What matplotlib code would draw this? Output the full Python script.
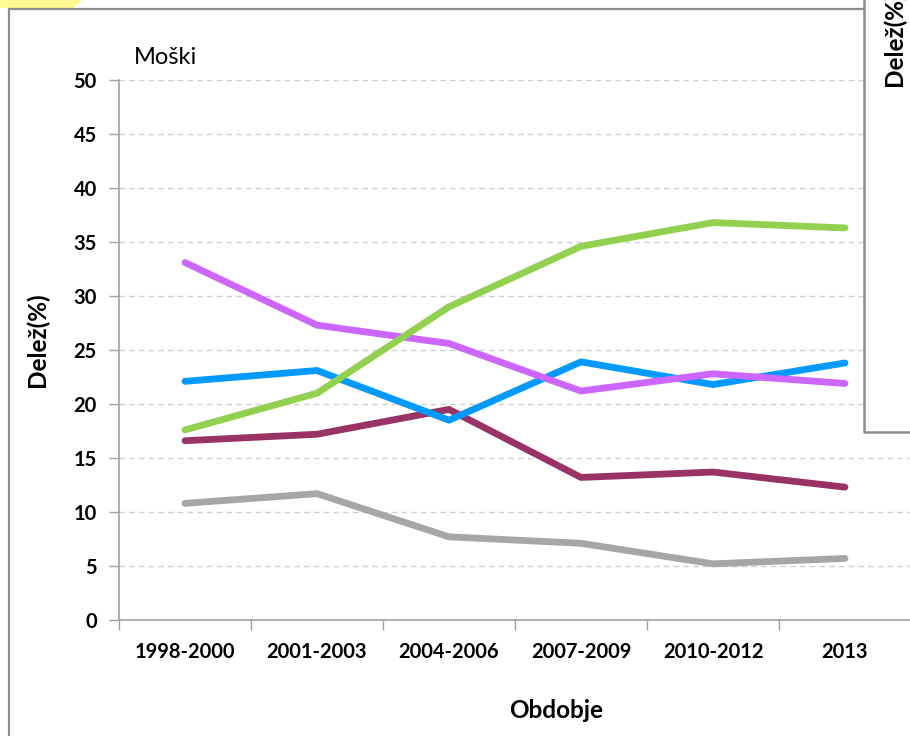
import numpy as np
import matplotlib.pyplot as plt
from matplotlib.patches import Polygon
from matplotlib.lines import Line2D

plt.rcParams['font.family'] = ['Lato', 'DejaVu Sans']

# ---------------------------------------------------------------------------
# data
# ---------------------------------------------------------------------------
periods = ['1998-2000', '2001-2003', '2004-2006', '2007-2009', '2010-2012', '2013']
green = [17.6, 21.0, 29.0, 34.6, 36.8, 36.3]
blue = [22.1, 23.1, 18.5, 23.9, 21.8, 23.8]
violet = [33.1, 27.3, 25.6, 21.2, 22.8, 21.9]
maroon = [16.6, 17.2, 19.5, 13.2, 13.7, 12.3]
grey = [10.8, 11.7, 7.7, 7.1, 5.2, 5.7]

series = [
    (grey, '#A6A6A6'),
    (maroon, '#993366'),
    (blue, '#0099FF'),
    (violet, '#CC66FF'),
    (green, '#92D050'),
]

W, H = 910, 736
fig = plt.figure(figsize=(W / 100, H / 100), dpi=100)

def fx(px):
    return px / W

def fy(py):
    return 1 - py / H

# axes: x from 119 px to 911 px, y from 620 px (0) to 80 px (50)
ax = fig.add_axes([fx(119), fy(620), (911 - 119) / W, (620 - 80) / H])

x = np.arange(len(periods)) + 0.5
for vals, col in series:
    ax.plot(x, vals, color=col, lw=4.9, solid_capstyle='round',
            solid_joinstyle='round', zorder=3)

ax.set_xlim(0, len(periods))
ax.set_ylim(0, 50)
ax.set_yticks(range(0, 51, 5))
ax.set_xticks(range(len(periods) + 1))
ax.set_xticklabels([])
ax.set_xticks(x, minor=True)
ax.set_xticklabels(periods, minor=True)
ax.tick_params(axis='x', which='minor', length=0, pad=16,
               labelsize=14.5)
ax.tick_params(axis='x', which='major', length=7, color='#A0A0A0', width=1)
ax.tick_params(axis='y', length=7, color='#A0A0A0', width=1, pad=9,
               labelsize=14.5)
for lbl in ax.get_xticklabels(minor=True) + ax.get_yticklabels():
    lbl.set_fontweight('bold')

ax.yaxis.grid(True, color='#D0D0D0', ls=(0, (4, 3)), lw=1)
ax.set_axisbelow(True)
for s in ['top', 'right']:
    ax.spines[s].set_visible(False)
for s in ['left', 'bottom']:
    ax.spines[s].set_color('#A0A0A0')
    ax.spines[s].set_linewidth(1.2)

fig.text(fx(37), fy(340), 'Delež(%)', rotation=90, ha='center', va='center',
         fontsize=17.5, fontweight='bold')
fig.text(fx(556), fy(710), 'Obdobje', ha='center', va='center',
         fontsize=17.5, fontweight='bold')
fig.text(fx(134), fy(57), 'Moški', ha='left', va='center', fontsize=17)

# outer chart frame and the neighbouring panel's box
frame_col = '#8C8C8C'
fig.add_artist(Line2D([fx(9), fx(9)], [fy(9), fy(740)], color=frame_col,
                      lw=1.6, transform=fig.transFigure))
fig.add_artist(Line2D([fx(9), fx(864)], [fy(9), fy(9)], color=frame_col,
                      lw=1.6, transform=fig.transFigure))
fig.add_artist(Polygon([[fx(864), fy(0)], [fx(912), fy(0)],
                        [fx(912), fy(432)], [fx(864), fy(432)]],
                       closed=True, facecolor='white', edgecolor='none',
                       transform=fig.transFigure, zorder=5))
fig.add_artist(Line2D([fx(864), fx(864), fx(912)], [fy(-2), fy(432), fy(432)],
                      color=frame_col, lw=1.8, transform=fig.transFigure,
                      zorder=6))
fig.text(fx(894), fy(86), 'Delež(%)', rotation=90, ha='center', va='bottom',
         fontsize=17.5, fontweight='bold', zorder=7)

# yellow corner patch
fig.add_artist(Polygon([[fx(0), fy(0)], [fx(82), fy(0)], [fx(73), fy(8)],
                        [fx(0), fy(8)]], closed=True, facecolor='#FFFA90',
                       edgecolor='none', transform=fig.transFigure))

fig.savefig('out.png', dpi=100)
